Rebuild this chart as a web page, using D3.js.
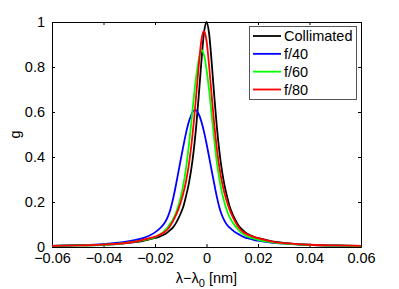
<!DOCTYPE html>
<html>
<head>
<meta charset="utf-8">
<script src="https://cdn.jsdelivr.net/npm/d3@7"></script>
<style>
  body { margin: 0; background: #fff; }
  svg { display: block; font-family: "Liberation Sans", Arial, sans-serif; }
</style>
</head>
<body>
<div id="chart"></div>
<script>
// DATA
const wavelength = [-0.06, -0.05, -0.04, -0.035, -0.03, -0.025,
  -0.020, -0.019, -0.018, -0.017, -0.016, -0.015, -0.014, -0.013, -0.012, -0.011,
  -0.010, -0.009, -0.008, -0.007, -0.006, -0.005, -0.004, -0.003, -0.002, -0.001,
  0, 0.001, 0.002, 0.003, 0.004, 0.005, 0.006, 0.007, 0.008, 0.009,
  0.010, 0.011, 0.012, 0.013, 0.014, 0.015, 0.016, 0.017, 0.018, 0.019, 0.020,
  0.025, 0.03, 0.035, 0.04, 0.05, 0.06];

const collimated = [0.005, 0.007, 0.010, 0.013, 0.018, 0.026,
  0.040, 0.043, 0.047, 0.052, 0.058, 0.066, 0.076, 0.087, 0.104, 0.125,
  0.150, 0.180, 0.224, 0.274, 0.339, 0.425, 0.536, 0.673, 0.822, 0.949,
  1.000, 0.949, 0.822, 0.673, 0.536, 0.425, 0.339, 0.274, 0.224, 0.180,
  0.150, 0.125, 0.104, 0.087, 0.076, 0.066, 0.058, 0.052, 0.047, 0.043, 0.040,
  0.026, 0.018, 0.013, 0.010, 0.007, 0.005];

const f40 = [0.005, 0.008, 0.013, 0.018, 0.026, 0.038,
  0.065, 0.074, 0.084, 0.096, 0.112, 0.135, 0.168, 0.213, 0.268, 0.328,
  0.389, 0.448, 0.504, 0.551, 0.584, 0.606, 0.607, 0.590, 0.558, 0.514,
  0.460, 0.401, 0.340, 0.281, 0.224, 0.176, 0.141, 0.116, 0.098, 0.086,
  0.076, 0.067, 0.060, 0.053, 0.047, 0.042, 0.039, 0.036, 0.033, 0.030, 0.028,
  0.020, 0.015, 0.012, 0.009, 0.006, 0.004];

const f60 = [0.005, 0.007, 0.010, 0.014, 0.020, 0.029,
  0.044, 0.050, 0.057, 0.064, 0.076, 0.089, 0.105, 0.123, 0.148, 0.181,
  0.222, 0.277, 0.346, 0.436, 0.543, 0.657, 0.757, 0.834, 0.875, 0.855,
  0.790, 0.699, 0.588, 0.477, 0.379, 0.302, 0.242, 0.197, 0.160, 0.132,
  0.112, 0.095, 0.081, 0.068, 0.060, 0.052, 0.046, 0.042, 0.039, 0.035, 0.032,
  0.022, 0.015, 0.012, 0.009, 0.006, 0.004];

const f80 = [0.005, 0.007, 0.011, 0.014, 0.020, 0.031,
  0.046, 0.050, 0.055, 0.061, 0.069, 0.080, 0.096, 0.115, 0.138, 0.165,
  0.199, 0.239, 0.289, 0.355, 0.440, 0.547, 0.674, 0.807, 0.917, 0.960,
  0.917, 0.807, 0.674, 0.547, 0.440, 0.355, 0.289, 0.239, 0.199, 0.165,
  0.138, 0.115, 0.096, 0.080, 0.069, 0.061, 0.055, 0.050, 0.046, 0.042, 0.039,
  0.025, 0.017, 0.013, 0.010, 0.007, 0.005];

const seriesNames = ["Collimated", "f/40", "f/60", "f/80"];
const seriesValues = [collimated, f40, f60, f80];
const xTicks = [-0.06, -0.04, -0.02, 0, 0.02, 0.04, 0.06];
const yTicks = [0, 0.2, 0.4, 0.6, 0.8, 1];

// STYLE
const colors = ["#000000", "#0000ff", "#00ff00", "#ff0000"];
const width = 399, height = 289;
const margin = { left: 52, right: 38, top: 22, bottom: 42 };
const fontSize = "14.5px";

const svg = d3.select("#chart").append("svg")
  .attr("width", width)
  .attr("height", height);

const x = d3.scaleLinear().domain([-0.06, 0.06]).range([margin.left, width - margin.right]);
const y = d3.scaleLinear().domain([0, 1]).range([height - margin.bottom, margin.top]);

const fmt = d3.format("~g");

// axes (ticks inward like matlab)
svg.append("g")
  .attr("transform", `translate(0,${y(0)})`)
  .call(d3.axisBottom(x).tickValues(xTicks).tickSize(-3).tickSizeOuter(0).tickPadding(6).tickFormat(fmt));
svg.append("g")
  .attr("transform", `translate(${x(-0.06)},0)`)
  .call(d3.axisLeft(y).tickValues(yTicks).tickSize(-3).tickSizeOuter(0).tickPadding(7).tickFormat(fmt));
svg.append("g")
  .attr("transform", `translate(0,${y(1)})`)
  .call(d3.axisTop(x).tickValues(xTicks).tickSize(-3).tickSizeOuter(0).tickFormat(""));
svg.append("g")
  .attr("transform", `translate(${x(0.06)},0)`)
  .call(d3.axisRight(y).tickValues(yTicks).tickSize(-3).tickSizeOuter(0).tickFormat(""));

svg.selectAll(".tick text").style("font-size", fontSize).attr("fill", "#000");
svg.selectAll(".domain, .tick line").attr("stroke", "#000");

// curves
const line = d3.line()
  .x((d, i) => x(wavelength[i]))
  .y(d => y(d))
  .curve(d3.curveMonotoneX);

const plot = svg.append("g");
plot.append("clipPath").attr("id", "clip")
  .append("rect")
  .attr("x", x(-0.06)).attr("y", y(1) - 2)
  .attr("width", x(0.06) - x(-0.06)).attr("height", y(0) - y(1) + 2);

// matlab order: collimated first, f/80 last (on top)
plot.selectAll("path.series")
  .data(d3.range(seriesValues.length))
  .enter().append("path")
  .attr("class", "series")
  .attr("clip-path", "url(#clip)")
  .attr("fill", "none")
  .attr("stroke", i => colors[i])
  .attr("stroke-width", 1.8)
  .attr("d", i => line(seriesValues[i]));

// axis labels
svg.append("text")
  .attr("x", (x(-0.06) + x(0.06)) / 2)
  .attr("y", 283)
  .attr("text-anchor", "middle")
  .style("font-size", fontSize)
  .html('λ−λ<tspan dy="4" font-size="11px">0</tspan><tspan dy="-4"> [nm]</tspan>');

svg.append("text")
  .attr("transform", `translate(20,${(y(0) + y(1)) / 2}) rotate(-90)`)
  .attr("text-anchor", "middle")
  .style("font-size", fontSize)
  .text("g");

// legend
const legend = svg.append("g").attr("transform", "translate(249,26)");
legend.append("rect")
  .attr("x", 0.5).attr("y", 0.5)
  .attr("width", 107).attr("height", 73)
  .attr("fill", "#fff")
  .attr("stroke", "#555");

const rowY = d3.scalePoint().domain(seriesNames).range([10, 63.5]);
const item = legend.selectAll("g.item")
  .data(seriesNames)
  .enter().append("g")
  .attr("class", "item")
  .attr("transform", d => `translate(0,${rowY(d)})`);
item.append("line")
  .attr("x1", 4).attr("x2", 32)
  .attr("stroke", (d, i) => colors[i])
  .attr("stroke-width", 1.8);
item.append("text")
  .attr("x", 35)
  .attr("dy", "0.35em")
  .style("font-size", fontSize)
  .text(d => d);
</script>
</body>
</html>
